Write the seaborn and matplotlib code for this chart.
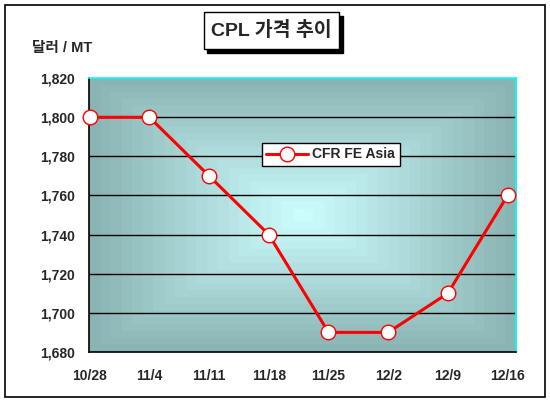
import numpy as np
import pandas as pd
import matplotlib
matplotlib.use("Agg")
import matplotlib.pyplot as plt
import seaborn as sns
from matplotlib.patches import Rectangle

dates = ["10/28", "11/4", "11/11", "11/18", "11/25", "12/2", "12/9", "12/16"]
prices = [1800, 1800, 1770, 1740, 1690, 1690, 1710, 1760]
series_name = "CFR FE Asia"
yticks = [1680, 1700, 1720, 1740, 1760, 1780, 1800, 1820]

sns.set_style("white")
plt.rcParams['font.family'] = ['Liberation Sans', 'Noto Sans CJK KR']

fig = plt.figure(figsize=(5.5, 4.05), dpi=100)
ax = fig.add_axes([0.161, 0.131, 0.777, 0.676])

# gradient background (rectangular)
n = 300
gx, gy = np.meshgrid(np.linspace(-1, 1, n), np.linspace(-1, 1, n))
d = np.maximum(np.abs(gx), np.abs(gy))
d = np.floor(d * 20) / 20
edge = np.array([0.53, 0.69, 0.69])
center = np.array([0.80, 0.99, 0.99])
img = center[None, None, :] * (1 - d[..., None]) + edge[None, None, :] * d[..., None]
xlim = (-0.02, 7.14)
ylim = (1680, 1820)
ax.imshow(img, extent=[xlim[0], xlim[1], ylim[0], ylim[1]], aspect='auto', zorder=0)

for yv in yticks[1:-1]:
    ax.axhline(yv, color='black', lw=1, zorder=1)

df = pd.DataFrame({"x": np.arange(len(dates)), "price": prices, "series": series_name})
sns.lineplot(data=df, x="x", y="price", hue="series", palette=["#ff0000"], ax=ax,
             marker='o', markersize=10.5, markerfacecolor='white', markeredgecolor='#ff0000',
             markeredgewidth=1, lw=2.2, zorder=3, clip_on=False)

ax.set_xlim(*xlim)
ax.set_ylim(*ylim)
ax.set_xticks(np.arange(len(dates)))
ax.set_xticklabels(dates, fontsize=10, fontweight='bold')
ax.set_yticks(yticks)
ax.set_yticklabels([f"{v:,}" for v in yticks], fontsize=10, fontweight='bold')
ax.set_xlabel("")
ax.set_ylabel("")
ax.tick_params(axis='x', direction='in', length=4, width=1, color='black', pad=12)
ax.tick_params(axis='y', length=0, pad=10)
ax.spines['left'].set_color('black')
ax.spines['bottom'].set_color('black')
ax.spines['top'].set_color('#00ffff')
ax.spines['right'].set_color('#00ffff')
for s in ax.spines.values():
    s.set_linewidth(1.2)

leg = ax.legend(loc='upper left', bbox_to_anchor=(0.405, 0.765), frameon=True, fancybox=False,
                edgecolor='black', framealpha=1, prop={'weight': 'bold', 'size': 10},
                handlelength=3, borderpad=0.35, handletextpad=0.3, borderaxespad=0)
leg.get_frame().set_linewidth(1)

# y-axis unit label
fig.text(0.113, 0.882, "달러 / MT", fontsize=10.5, fontweight='bold', ha='center', va='center')

# outer frame
fig.patches.append(Rectangle((0.009, 0.02), 0.982, 0.967, transform=fig.transFigure,
                             fill=False, edgecolor='black', lw=1.2))
# title box with shadow
fig.patches.append(Rectangle((0.377, 0.868), 0.247, 0.092, transform=fig.transFigure,
                             facecolor='black', edgecolor='black', lw=1))
fig.patches.append(Rectangle((0.370, 0.878), 0.247, 0.092, transform=fig.transFigure,
                             facecolor='white', edgecolor='black', lw=1))
fig.text(0.4935, 0.924, "CPL 가격 추이", fontsize=14, fontweight='bold', ha='center', va='center')

fig.savefig("out.png", dpi=100)
